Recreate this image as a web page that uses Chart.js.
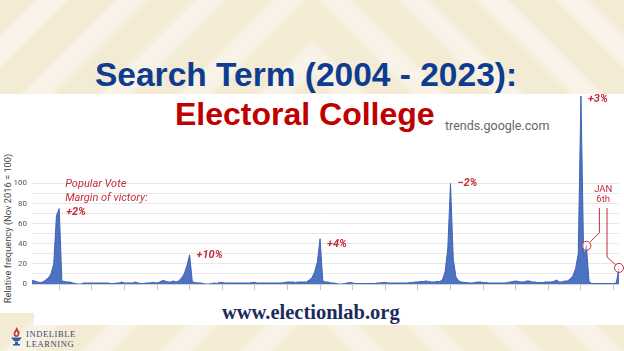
<!DOCTYPE html>
<html>
<head>
<meta charset="utf-8">
<script src="https://cdn.jsdelivr.net/npm/chart.js@4.4.1/dist/chart.umd.min.js"></script>
<style>
  body { margin: 0; width: 624px; height: 351px; position: relative; overflow: hidden; }
  .bg { position: absolute; top: 0; height: 351px; width: 312px; }
  .bgLeft { left: 0; background: repeating-linear-gradient(-45deg, #f3ebd4 0 26px, #f8f3e6 32px 48px, #f3ebd4 54px 56px); }
  .bgRight { left: 312px; background: repeating-linear-gradient(45deg, #f3ebd4 0 26px, #f8f3e6 32px 48px, #f3ebd4 54px 56px); }
  .white { position: absolute; background: #fff; }
  .txt { position: absolute; white-space: nowrap; line-height: 1; }
  #title1 { left: 95px; top: 56px; font: bold 33.5px "Liberation Sans", Arial, sans-serif; color: #0d3c91; }
  #title2 { left: 175px; top: 96px; font: bold 32px "Liberation Sans", Arial, sans-serif; color: #bf0000; }
  #trends { left: 445px; top: 118px; font: 12.5px Roboto, sans-serif; color: #666; }
  #site { left: 222px; top: 301px; font: bold 20.5px "Liberation Serif", serif; color: #1c2b5c; }
  #yTitle { left: -78px; top: 223px; width: 170px; text-align: center; font: 9.3px Roboto, sans-serif; color: #444; transform: rotate(-90deg); }
  .logo { left: 26px; font: 8.5px "Liberation Serif", serif; letter-spacing: 0.6px; color: #3a4a66; }
  #chart { position: absolute; left: 0; top: 0; }
</style>
</head>
<body>
<div class="bg bgLeft"></div>
<div class="bg bgRight"></div>
<div class="white" style="left:0; top:94px; width:624px; height:219px;"></div>
<div class="white" style="left:34px; top:313px; width:590px; height:12px;"></div>

<div class="txt" id="title1">Search Term (2004 - 2023):</div>
<div class="txt" id="title2">Electoral College</div>
<div class="txt" id="trends">trends.google.com</div>
<div class="txt" id="site">www.electionlab.org</div>
<div class="txt" id="yTitle">Relative frequency (Nov 2016 = 100)</div>

<svg style="position:absolute; left:11px; top:327px;" width="11" height="19" viewBox="0 0 11 19">
  <path d="M5.5 0 C7 3 9 4.5 8.5 7 C8 9 6.5 10 5.5 10 C4 10 2.5 9 2.5 7 C2.5 5 4.5 3.5 5.5 0 Z" fill="#c33a2c"/>
  <path d="M5.5 4 C6.2 5.5 7 6.5 6.6 7.6 C6.3 8.5 4.7 8.5 4.4 7.6 C4.1 6.6 5 5.5 5.5 4 Z" fill="#fff"/>
  <path d="M0 10.5 H11 L8 14 H3 Z M4 14.5 H7 V17 H9 V18.5 H2 V17 H4 Z" fill="#2f5ea6"/>
</svg>
<div class="txt logo" style="top:329px;">INDELIBLE</div>
<div class="txt logo" style="top:339px;">LEARNING</div>

<canvas id="chart" width="624" height="351"></canvas>

<script>
// monthly search interest for "Electoral College", Jan 2004 - Jan 2022
const v2004 = [3.5, 3, 2, 1.5, 2, 4, 6, 10, 20, 68, 75, 3];
const v2005 = [2.5, 2, 2, 1, 0.5, 0, 0, 1, 1, 1, 1, 1];
const v2006 = [1, 1, 1, 1, 1, 0.5, 0.5, 1, 1, 2, 1, 1];
const v2007 = [1, 1, 2, 1, 0.5, 0.5, 1, 1, 1.5, 1.5, 1, 2];
const v2008 = [3.5, 3, 2, 2, 3, 2, 3, 6, 10, 18, 29, 2];
const v2009 = [1.5, 1, 1, 0.5, 0, 0, 0.5, 1, 0.5, 1.5, 1.5, 1];
const v2010 = [1, 1, 1, 1, 1, 1, 1, 1, 1, 1.5, 1.5, 1];
const v2011 = [1, 1, 1, 1, 1, 1, 1, 1, 1, 1.5, 2, 2];
const v2012 = [2, 1.5, 2, 2, 2, 2, 4, 6, 12, 22, 45, 3];
const v2013 = [2, 2, 1, 1, 0.5, 0, 0, 0.5, 1, 1.5, 1, 0.5];
const v2014 = [0.5, 0.5, 0.5, 0.5, 0.5, 0.5, 0.5, 1, 1, 1.5, 1.5, 1];
const v2015 = [1, 1, 1, 1, 1, 1, 1, 1.5, 1.5, 2, 2, 2.5];
const v2016 = [2.5, 3, 2.5, 2, 2, 2.5, 2.5, 4, 12, 35, 100, 25];
const v2017 = [7, 3, 2, 1.5, 1.5, 1, 1, 1.5, 2, 2, 1.5, 1.5];
const v2018 = [1, 1, 1, 1, 1, 1, 1, 1.5, 2, 2.5, 3, 2.5];
const v2019 = [2, 2, 3, 3, 2, 2, 1.5, 1.5, 1.5, 2, 2, 2];
const v2020 = [2.5, 4, 2, 2, 3, 3, 5, 8, 15, 30, 187, 27];
const v2021 = [38, 2, 0.5, 0.5, 0.5, 0.5, 0.5, 0.5, 0.5, 0.5, 0.5, 1];
const v2022 = [16];

const monthNames = ["Jan", "Feb", "Mar", "Apr", "May", "Jun", "Jul", "Aug", "Sep", "Oct", "Nov", "Dec"];
const tickMonth = "Nov";
const yTickLabels = [0, 20, 40, 60, 80, 100];

const electionMonths = ["Nov 2004", "Nov 2008", "Nov 2012", "Nov 2016", "Nov 2020"];
const marginLabels = ["+2%", "+10%", "+4%", "\u22122%", "+3%"];
const noteLines = ["Popular Vote", "Margin of victory:"];
const jan6Months = ["Jan 2021", "Jan 2022"];
const jan6Lines = ["JAN", "6th"];

const values = [].concat(v2004, v2005, v2006, v2007, v2008, v2009, v2010, v2011,
  v2012, v2013, v2014, v2015, v2016, v2017, v2018, v2019, v2020, v2021, v2022);

const labels = [];
for (let i = 0; i < values.length; i++) {
  labels.push(monthNames[i % 12] + " " + (2004 + Math.floor(i / 12)));
}

const red = "#c52d3a";

const notesPlugin = {
  id: "notes",
  afterDatasetsDraw(chart) {
    const { ctx, scales } = chart;
    const x = scales.x, y = scales.y;
    const dy = [4, 0, 5, 0, 3];
    ctx.save();
    ctx.fillStyle = red;
    ctx.textBaseline = "middle";
    ctx.textAlign = "left";

    electionMonths.forEach((m, i) => {
      const idx = labels.indexOf(m);
      const px = x.getPixelForValue(idx) + 7;
      const py = y.getPixelForValue(values[idx]) + dy[i];
      ctx.font = "italic bold 11px Roboto";
      ctx.fillText(marginLabels[i], px, py);
      if (i === 0) {
        ctx.font = "italic 11px Roboto";
        noteLines.forEach((t, j) => ctx.fillText(t, px - 1, py - 28 + j * 14));
      }
    });

    // Jan 6th markers
    const pts = jan6Months.map((m) => {
      const idx = labels.indexOf(m);
      return { x: x.getPixelForValue(idx), y: y.getPixelForValue(values[idx]) };
    });
    const r = 4.5;
    const bends = [{ x: pts[0].x + 13, y: pts[0].y - 13 }, { x: pts[1].x - 12, y: pts[1].y - 11 }];
    const topY = 208;
    ctx.strokeStyle = red;
    ctx.lineWidth = 1;
    pts.forEach((p, i) => {
      const b = bends[i];
      const len = Math.hypot(b.x - p.x, b.y - p.y);
      ctx.beginPath();
      ctx.moveTo(p.x + (b.x - p.x) / len * r, p.y + (b.y - p.y) / len * r);
      ctx.lineTo(b.x, b.y);
      ctx.lineTo(b.x, topY);
      ctx.stroke();
      ctx.beginPath();
      ctx.arc(p.x, p.y, r, 0, Math.PI * 2);
      ctx.fillStyle = "rgba(255,255,255,0.55)";
      ctx.fill();
      ctx.stroke();
    });
    ctx.fillStyle = red;
    ctx.textAlign = "center";
    ctx.font = "9.5px Roboto";
    const cx = (bends[0].x + bends[1].x) / 2;
    jan6Lines.forEach((t, j) => ctx.fillText(t, cx, 190 + j * 10));
    ctx.restore();
  }
};

new Chart(document.getElementById("chart"), {
  type: "line",
  data: {
    labels: labels,
    datasets: [{
      data: values,
      fill: "origin",
      backgroundColor: "#4d72c2",
      borderColor: "#3f64b4",
      borderWidth: 1,
      pointRadius: 0,
      tension: 0
    }]
  },
  options: {
    responsive: false,
    animation: false,
    devicePixelRatio: 1,
    layout: { padding: { top: 96, right: 5, bottom: 57, left: 0 } },
    plugins: { legend: { display: false }, tooltip: { enabled: false } },
    scales: {
      x: {
        type: "category",
        border: { display: false },
        grid: {
          drawOnChartArea: false,
          drawTicks: true,
          tickLength: 6,
          color: (c) => (c.tick && labels[c.index] && labels[c.index].startsWith(tickMonth) ? "#c4c4c4" : "rgba(0,0,0,0)")
        },
        ticks: { autoSkip: false, maxRotation: 0, callback: () => "", font: { size: 1 } },
        afterFit: (scale) => { scale.height = 10; }
      },
      y: {
        min: 0,
        max: 187,
        border: { display: false },
        grid: {
          drawTicks: false,
          color: (c) => (c.tick && c.tick.value <= 100 ? (c.tick.value === 0 ? "#d2d2d2" : "#e8e8e8") : "rgba(0,0,0,0)")
        },
        ticks: {
          stepSize: 10,
          autoSkip: false,
          padding: 5,
          color: "#555",
          font: { family: "Roboto", size: 8 },
          callback: (v) => (yTickLabels.includes(v) ? v : "")
        },
        afterFit: (scale) => { scale.width = 32; }
      }
    }
  },
  plugins: [notesPlugin]
});
</script>
</body>
</html>
